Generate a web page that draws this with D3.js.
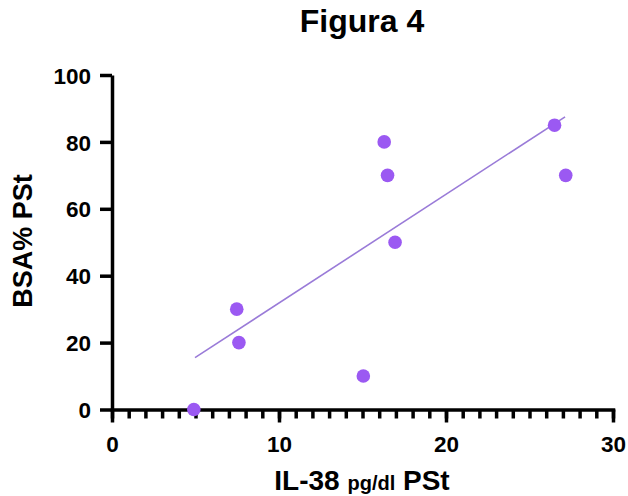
<!DOCTYPE html>
<html>
<head>
<meta charset="utf-8">
<script src="https://cdn.jsdelivr.net/npm/d3@7.9.0/dist/d3.min.js"></script>
<style>
  html, body { margin: 0; padding: 0; background: #fff; }
  svg { display: block; font-family: "Liberation Sans", Arial, Helvetica, sans-serif; }
  .axis path, .axis line { stroke: #000; stroke-width: 3.5; }
  .axis text { font-size: 22.5px; font-weight: bold; fill: #000; }
</style>
</head>
<body>
<svg id="chart" width="628" height="496"></svg>
<script>
// IL-38 (pg/dl) vs BSA% per patient
const il38 = [4.9, 7.47, 7.6, 15.05, 16.3, 16.5, 16.95, 26.5, 27.17];
const bsa = [0, 30, 20, 10, 80, 70, 50, 85, 70];

// fitted line as drawn (endpoints)
const fitX = [4.97, 27.13];
const fitY = [15.5, 87.5];

const xTicks = [0, 10, 20, 30];
const yTicks = [0, 20, 40, 60, 80, 100];

const svg = d3.select('#chart');
const x = d3.scaleLinear().domain([0, 30]).range([112, 613]);
const y = d3.scaleLinear().domain([0, 100]).range([409.5, 75]);

// minor ticks on x
svg.append('g')
  .attr('class', 'axis')
  .attr('transform', `translate(0,${y(0)})`)
  .call(d3.axisBottom(x).tickValues(d3.range(0, 31)).tickSize(9).tickFormat(''))
  .call((g) => g.select('.domain').remove())
  .call((g) => g.selectAll('line').attr('stroke-width', 2.5));

const xAxis = svg.append('g')
  .attr('class', 'axis')
  .attr('transform', `translate(0,${y(0)})`)
  .call(d3.axisBottom(x).tickValues(xTicks).tickSize(13).tickSizeOuter(0).tickPadding(14));
xAxis.select('.domain').attr('stroke-linecap', 'square');
xAxis.selectAll('text').attr('dy', '0.71em');

const yAxis = svg.append('g')
  .attr('class', 'axis')
  .attr('transform', `translate(${x(0)},0)`)
  .call(d3.axisLeft(y).tickValues(yTicks).tickSize(12).tickSizeOuter(0).tickPadding(9));
yAxis.selectAll('text').attr('dy', '0.36em');

// regression line
svg.append('path')
  .datum(d3.zip(fitX, fitY))
  .attr('fill', 'none')
  .attr('stroke', '#9a7bd8')
  .attr('stroke-width', 1.6)
  .attr('d', d3.line().x((d) => x(d[0])).y((d) => y(d[1])));

// points
svg.append('g')
  .selectAll('circle')
  .data(d3.zip(il38, bsa))
  .join('circle')
  .attr('cx', (d) => x(d[0]))
  .attr('cy', (d) => y(d[1]))
  .attr('r', 6.8)
  .attr('fill', '#9b59f2');

// title
svg.append('text')
  .attr('x', 362)
  .attr('y', 32)
  .attr('text-anchor', 'middle')
  .attr('font-size', 32)
  .attr('font-weight', 'bold')
  .text('Figura 4');

// y label
svg.append('text')
  .attr('transform', 'translate(32,241) rotate(-90)')
  .attr('text-anchor', 'middle')
  .attr('font-size', 27)
  .attr('font-weight', 'bold')
  .text('BSA% PSt');

// x label with smaller unit
const xl = svg.append('text')
  .attr('x', 362)
  .attr('y', 490)
  .attr('text-anchor', 'middle')
  .attr('font-weight', 'bold')
  .attr('font-size', 28);
xl.append('tspan').text('IL-38 ');
xl.append('tspan').attr('font-size', 20).text('pg/dl');
xl.append('tspan').text(' PSt');
</script>
</body>
</html>
